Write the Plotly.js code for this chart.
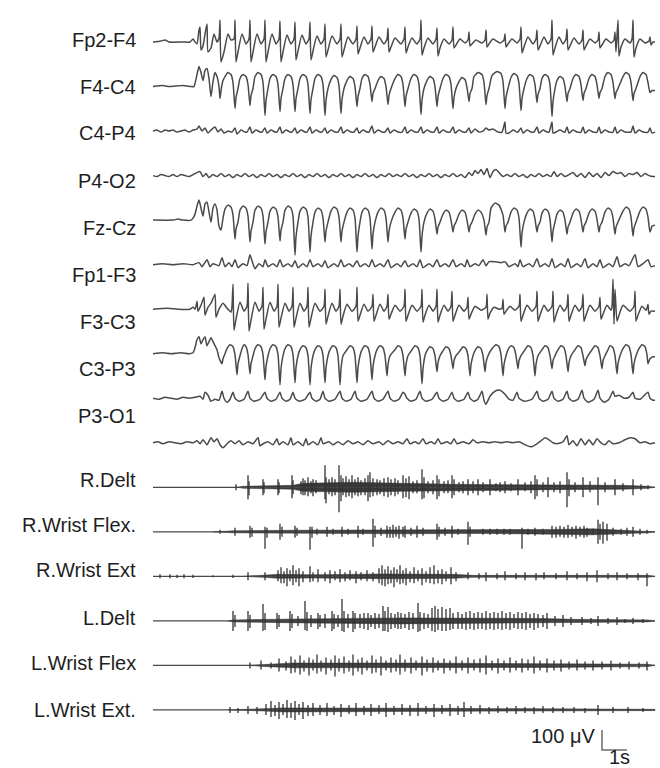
<!DOCTYPE html>
<html>
<head>
<meta charset="utf-8">
<script src="https://cdn.plot.ly/plotly-3.0.1.min.js"></script>
<style>html,body{margin:0;padding:0;background:#fff}</style>
</head>
<body>
<div id="chart" style="width:660px;height:768px"></div>
<script>
// Sampling step of the digitised record (one vertex index = 40 ms)
const SAMPLE_S = 0.04;

// Montage labels
const eegLabels = ["Fp2-F4", "F4-C4", "C4-P4", "P4-O2", "Fz-Cz", "Fp1-F3", "F3-C3", "C3-P3", "P3-O1"];
const emgLabels = ["R.Delt", "R.Wrist Flex.", "R.Wrist Ext", "L.Delt", "L.Wrist Flex", "L.Wrist Ext."];

// Calibration
const scaleUV = 100;
const scaleSec = 1;

// ---- EEG traces: [sample index, µV] ----
const fp2F4 = [[0,0],[8,5],[12,10],[16,0],[30,0],[37,0],[40,15],[42,0],
[44,-10],[46,60],[47,75],[48,-40],[50,-20],[52,40],[54,90],[55,-50],[58,-30],[61,40],[64,0],[66,20],[67,110],[68,-100],[71,-50],[75,40],[78,10],
[81,15],[82,110],[83,-100],[85,-50],[89,40],[93,-10],
[96,15],[97,110],[98,-100],[100,-50],[104,40],[108,-10],
[111,15],[112,110],[113,-100],[115,-50],[119,40],[123,-10],
[126,15],[127,105],[128,-100],[130,-50],[134,35],[138,-10],
[141,15],[142,100],[143,-90],[145,-45],[149,35],[153,-10],
[156,15],[157,100],[158,-90],[160,-45],[164,30],[168,-10],
[171,15],[172,90],[173,-75],[175,-40],[179,30],[184,-10],
[187,15],[188,90],[189,-75],[191,-40],[195,25],[200,-10],
[203,15],[204,80],[205,-60],[207,-30],[211,25],[215,-10],
[218,15],[219,80],[220,-50],[222,-25],[226,25],[231,-10],
[234,15],[235,70],[236,-50],[238,-25],[242,20],[248,-10],
[251,15],[252,75],[253,-55],[255,-25],[259,20],[264,-10],
[267,15],[268,110],[269,-65],[271,-30],[275,20],[280,-10],
[283,15],[284,70],[285,-70],[287,-30],[291,15],[296,-10],
[299,10],[300,75],[301,-30],[303,-15],[307,15],[312,-5],
[315,10],[316,50],[317,-20],[319,-10],[323,10],[329,-5],
[332,10],[333,60],[334,-25],[336,-10],[340,15],[347,-5],
[351,10],[352,40],[353,-25],[355,-10],[359,15],[364,-5],
[367,15],[368,75],[369,-55],[371,-25],[375,25],[380,-10],
[383,15],[384,60],[385,-40],[387,-20],[391,25],[395,-10],
[398,15],[399,110],[400,-65],[402,-30],[406,25],[410,-10],
[413,15],[414,65],[415,-40],[417,-20],[421,20],[426,-10],
[429,10],[430,60],[431,-40],[433,-20],[437,15],[442,-5],
[445,10],[446,50],[447,-30],[449,-15],[453,15],[458,-5],
[461,10],[462,50],[463,-50],[465,110],[466,-70],[468,-25],[472,15],[477,-5],
[479,15],[480,110],[481,-75],[483,-30],[487,15],[492,-5],
[496,5],[497,25],[498,-15],[500,0],[502,0]];

const f4C4 = [[0,0],[10,5],[15,0],[30,5],[38,0],[41,0],
[42,15],[44,60],[46,100],[48,70],[50,30],[52,80],[54,90],[56,40],[58,-50],[60,25],[62,70],[64,50],[66,0],[67,-60],[68,-20],[70,30],
[72,50],[75,70],[78,60],[80,20],[82,-110],[83,-55],[85,-10],
[87,40],[90,60],[93,50],[95,10],[97,-95],[98,-45],[100,-10],
[102,50],[105,70],[108,60],[110,20],[112,-145],[113,-70],[115,-10],
[117,40],[120,60],[123,50],[125,10],[127,-125],[128,-60],[130,-10],
[132,40],[135,60],[138,50],[140,10],[142,-125],[143,-60],[145,-10],
[147,40],[150,60],[153,50],[155,10],[157,-135],[158,-65],[160,-10],
[162,40],[165,60],[168,50],[170,10],[172,-145],[173,-70],[175,-10],
[178,35],[181,55],[184,45],[186,5],[188,-135],[189,-65],[191,-10],
[194,30],[197,50],[200,40],[202,0],[204,-100],[205,-50],[207,-10],
[209,40],[212,60],[215,50],[217,10],[219,-75],[220,-35],[222,-10],
[225,30],[228,50],[231,40],[233,0],[235,-90],[236,-45],[238,-10],
[242,40],[245,60],[248,50],[250,10],[252,-100],[253,-50],[255,-10],
[258,40],[261,60],[264,50],[266,10],[268,-140],[269,-70],[271,-10],
[274,30],[277,50],[280,40],[282,0],[284,-100],[285,-50],[287,-10],
[290,40],[293,60],[296,50],[298,10],[300,-110],[301,-55],[303,-10],
[306,25],[309,45],[312,35],[314,-5],[316,-75],[317,-35],[319,-10],
[321,50],[325,70],[329,60],[331,20],[333,-90],[334,-45],[336,-10],
[339,55],[344,75],[348,65],[350,25],[352,-110],[353,-55],[355,-10],
[358,45],[361,65],[364,55],[366,15],[368,-120],[369,-60],[371,-10],
[374,40],[377,60],[380,50],[382,10],[384,-80],[385,-40],[387,-10],
[389,40],[392,60],[395,50],[397,10],[399,-150],[400,-75],[402,-10],
[404,30],[407,50],[410,40],[412,0],[414,-75],[415,-35],[417,-10],
[420,40],[423,60],[426,50],[428,10],[430,-70],[431,-35],[433,-10],
[436,40],[439,60],[442,50],[444,10],[446,-60],[447,-30],[449,-10],
[452,50],[455,70],[458,60],[460,20],[462,-60],[463,-30],[465,-10],
[470,50],[473,70],[476,60],[478,20],[480,-70],[481,-35],[483,-10],
[487,50],[490,70],[493,60],[495,20],[497,-30],[499,-20],[502,-20]];

const c4P4 = [[0,0],[4,5],[8,-5],[12,5],[16,0],[20,5],[24,-5],[28,0],[32,5],[36,-5],[40,5],[44,10],[46,25],[49,0],[52,15],[55,-10],[58,5],[62,20],[65,-5],[68,10],[71,-10],[75,0],
[79,-5],[82,15],[84,-15],[88,5],[92,-5],
[94,-5],[97,20],[99,-10],[103,5],[107,-5],
[109,-5],[112,15],[114,-10],[118,5],[122,-5],
[124,-5],[127,20],[129,-10],[133,5],[137,-5],
[139,-5],[142,15],[144,-10],[148,5],[152,-5],
[154,-5],[157,20],[159,-10],[163,5],[167,-5],
[169,-5],[172,15],[174,-10],[178,5],[182,-5],
[185,-5],[188,20],[190,-10],[194,5],[198,-5],
[201,-5],[204,15],[206,-10],[210,5],[214,-5],
[216,-5],[219,25],[221,-10],[225,5],[229,-5],
[232,-5],[235,15],[237,-10],[241,5],[245,-5],
[249,-5],[252,20],[254,-10],[258,5],[262,-5],
[265,-5],[268,20],[270,-10],[274,5],[278,-5],
[281,-5],[284,20],[286,-10],[290,5],[294,-5],
[297,-5],[300,20],[302,-10],[306,5],[310,-5],
[313,-5],[316,15],[318,-10],[322,10],[326,-5],
[330,0],[333,15],[336,5],[340,10],[345,-5],
[349,-5],[352,45],[353,-10],[356,-10],[360,5],[364,-5],
[365,-5],[368,15],[370,-10],[374,5],[378,-5],
[381,-5],[384,20],[386,-10],[390,5],[394,-5],
[396,-5],[399,45],[400,-10],[403,-5],[407,5],[411,-5],
[412,-5],[414,20],[416,-10],[420,5],[424,-5],
[428,-5],[430,20],[432,-10],[436,5],[440,-5],
[444,-5],[446,20],[448,-10],[452,5],[456,-5],
[460,-5],[462,20],[464,-10],[468,5],[472,-5],
[478,-5],[480,25],[482,-10],[486,5],[490,-5],
[495,-5],[497,15],[499,-10],[502,-5]];

const p4O2 = [[0,0],[4,-5],[8,5],[12,0],[16,-5],[20,5],[24,-5],[28,5],[32,0],[36,-5],[40,5],[44,15],[47,20],[50,-5],[53,10],[56,-10],[60,5],[64,-5],[68,10],[72,-5],[76,5],[80,-10],[84,5],[88,-5],[92,10],[96,-5],[100,5],[104,-10],[108,5],[112,-5],[116,10],[120,-5],[124,5],[128,-10],[132,5],[136,-5],[140,10],[144,-5],[148,5],[152,-10],[156,5],[160,-5],[164,10],[168,-5],[172,5],[176,-10],[180,5],[184,-5],[188,10],[192,-5],[196,5],[200,-10],[204,5],[208,-5],[212,10],[216,-5],[220,5],[224,-10],[228,5],[232,-5],[236,10],[240,-5],[244,5],[248,-5],[252,10],[256,-5],[260,5],[264,-10],[268,5],[272,-5],[276,10],[280,-5],[284,5],[288,-10],[292,5],[296,-5],[300,10],[304,-5],[308,5],[312,-10],[316,15],[319,0],[322,25],[325,10],[328,30],[331,5],[334,35],[337,-10],[340,20],[343,30],[346,15],[350,-5],[354,5],[358,-5],[362,10],[366,-5],[370,5],[374,-10],[378,5],[382,-5],[386,10],[390,-5],[394,5],[398,-5],[401,20],[404,-5],[408,10],[412,-5],[416,5],[420,15],[424,-5],[428,10],[432,-10],[436,15],[440,-5],[444,10],[448,-10],[452,15],[456,0],[460,20],[464,10],[468,15],[472,-5],[476,10],[480,5],[484,15],[488,-5],[492,10],[496,0],[500,-5],[502,-5]];

const fzCz = [[0,0],[20,0],[25,5],[30,0],[38,0],[40,10],
[42,30],[44,70],[46,100],[48,60],[50,20],[52,80],[54,90],[56,40],[58,-10],[60,60],[62,80],[64,50],[66,-30],[68,-50],[70,10],
[72,55],[75,75],[78,65],[80,25],[82,-95],[83,-45],[85,-10],
[87,50],[90,70],[93,60],[95,20],[97,-110],[98,-55],[100,-10],
[102,50],[105,70],[108,60],[110,20],[112,-120],[113,-60],[115,-10],
[117,45],[120,65],[123,55],[125,15],[127,-105],[128,-50],[130,-10],
[132,50],[135,70],[138,60],[140,20],[142,-175],[143,-85],[145,-10],
[147,45],[150,65],[153,55],[155,15],[157,-160],[158,-80],[160,-10],
[162,40],[165,60],[168,50],[170,10],[172,-110],[173,-55],[175,-10],
[178,45],[181,65],[184,55],[186,15],[188,-110],[189,-55],[191,-10],
[194,40],[197,60],[200,50],[202,10],[204,-160],[205,-80],[207,-10],
[209,40],[212,60],[215,50],[217,10],[219,-145],[220,-70],[222,-10],
[225,40],[228,60],[231,50],[233,10],[235,-110],[236,-55],[238,-10],
[242,40],[245,60],[248,50],[250,10],[252,-95],[253,-45],[255,-10],
[258,35],[261,55],[264,45],[266,5],[268,-160],[269,-80],[271,-10],
[274,35],[277,55],[280,45],[282,5],[284,-70],[285,-35],[287,-10],
[290,30],[293,50],[296,40],[298,0],[300,-60],[301,-30],[303,-10],
[306,30],[309,50],[312,40],[314,0],[316,-60],[317,-30],[319,-10],
[322,30],[325,50],[328,40],[331,0],[333,-75],[334,-35],[336,-10],
[338,60],[342,85],[346,75],[350,25],[352,-60],[353,-30],[355,-10],
[358,40],[361,60],[364,50],[366,10],[368,-135],[369,-65],[371,-10],
[374,35],[377,55],[380,45],[382,5],[384,-60],[385,-30],[387,-10],
[389,35],[392,55],[395,45],[397,5],[399,-110],[400,-55],[402,-10],
[404,30],[407,50],[410,40],[412,0],[414,-70],[415,-35],[417,-10],
[420,35],[423,55],[426,45],[428,5],[430,-60],[431,-30],[433,-10],
[436,35],[439,55],[442,45],[444,5],[446,-60],[447,-30],[449,-10],
[452,40],[455,60],[458,50],[460,10],[462,-70],[463,-35],[465,-10],
[470,45],[473,65],[476,55],[478,15],[480,-80],[481,-40],[483,-10],
[487,45],[490,65],[493,55],[495,15],[497,-60],[499,-30],[502,-25]];

const fp1F3 = [[0,0],[10,5],[20,0],[30,5],[40,0],[46,10],[49,-10],[54,25],[57,-10],[60,5],[66,-5],[69,35],[72,-10],[76,10],[79,-10],[82,25],[85,-15],[90,5],[94,-5],[97,50],[99,20],[102,-20],[106,5],[110,-10],[112,25],[115,-10],[120,5],[124,-10],[127,25],[130,-10],[135,5],[139,-10],[142,20],[145,-15],[150,5],[154,-10],[157,25],[160,-10],[165,5],[169,-10],[172,20],[175,-15],[181,5],[185,-10],[188,25],[191,-10],[196,5],[200,-10],[204,20],[207,-10],[212,5],[216,-10],[219,25],[222,-10],[227,5],[231,-10],[235,25],[238,-15],[244,5],[248,-10],[252,20],[255,-10],[260,5],[264,-10],[267,25],[270,-15],[276,5],[280,-10],[284,25],[287,-10],[292,5],[296,-10],[300,25],[303,-10],[308,5],[312,-10],[314,25],[317,-10],[322,5],[326,-5],[330,25],[333,-5],[336,15],[342,15],[348,10],[352,15],[356,-10],[362,5],[365,-10],[367,25],[370,-10],[376,5],[380,-10],[384,30],[387,-10],[392,5],[396,-10],[399,30],[402,-15],[408,5],[412,-10],[415,30],[418,-15],[424,5],[428,-10],[432,30],[435,-15],[440,5],[444,-10],[447,25],[450,-15],[456,5],[460,-10],[464,40],[467,-10],[472,5],[476,-5],[482,50],[485,-10],[490,5],[495,25],[498,-10],[502,-5]];

const f3C3 = [[0,0],[15,5],[25,0],[37,0],[40,10],[42,0],
[43,15],[44,40],[45,-10],[48,20],[51,60],[52,-30],[55,10],[58,30],[62,75],[63,-40],[66,0],[70,30],[74,5],[78,-15],
[79,15],[80,125],[81,-105],[83,-50],[87,35],[91,-10],
[94,15],[95,130],[96,-110],[98,-55],[102,35],[106,-10],
[109,15],[110,110],[111,-100],[113,-50],[117,35],[121,-10],
[124,15],[125,125],[126,-90],[128,-45],[132,30],[136,-10],
[139,15],[140,110],[141,-90],[143,-45],[147,30],[151,-10],
[154,15],[155,110],[156,-90],[158,-45],[162,30],[167,-10],
[171,15],[172,100],[173,-75],[175,-35],[179,30],[183,-10],
[186,15],[187,100],[188,-75],[190,-35],[194,25],[199,-10],
[203,15],[204,110],[205,-60],[207,-30],[211,25],[215,-10],
[219,15],[220,75],[221,-60],[223,-30],[227,25],[231,-10],
[234,15],[235,75],[236,-50],[238,-25],[242,20],[247,-10],
[251,15],[252,100],[253,-60],[255,-30],[259,20],[264,-10],
[268,15],[269,100],[270,-65],[272,-30],[276,20],[280,-10],
[283,15],[284,100],[285,-65],[287,-30],[291,20],[295,-10],
[298,15],[299,90],[300,-60],[302,-30],[306,20],[311,-10],
[314,10],[315,60],[316,-50],[318,-25],[322,15],[328,-5],
[333,10],[334,75],[335,-50],[337,-20],[341,10],[346,0],
[349,5],[350,50],[351,-25],[353,-10],[357,15],[362,-5],
[366,15],[367,75],[368,-60],[370,-30],[374,20],[379,-10],
[383,15],[384,90],[385,-60],[387,-30],[391,20],[395,-10],
[399,15],[400,90],[401,-65],[403,-30],[407,20],[411,-10],
[414,15],[415,75],[416,-60],[418,-30],[422,20],[426,-10],
[429,15],[430,75],[431,-60],[433,-30],[437,20],[442,-10],
[446,15],[447,60],[448,-50],[450,-25],[454,20],[458,-5],
[459,15],[460,150],[461,-75],[462,100],[464,-60],[466,-30],[470,20],[477,-10],
[481,15],[482,90],[483,-60],[485,-30],[489,15],[493,-5],
[494,5],[495,25],[496,-25],[498,-10],[502,-10]];

const c3P3 = [[0,0],[10,5],[18,0],[28,5],[36,0],[40,5],
[42,30],[44,70],[46,85],[48,50],[50,70],[52,85],[54,40],[56,60],[58,80],[61,50],[64,20],[66,-20],[69,-50],[70,-25],[72,0],
[74,25],[77,45],[80,35],[82,-5],[84,-105],[85,-50],[87,-10],
[89,25],[91,45],[93,35],[95,-5],[97,-100],[98,-50],[100,-10],
[102,25],[105,45],[108,35],[110,-5],[112,-130],[113,-65],[115,-10],
[117,25],[120,45],[123,35],[125,-5],[127,-155],[128,-75],[130,-10],
[132,25],[135,45],[138,35],[140,-5],[142,-145],[143,-70],[145,-10],
[147,20],[150,40],[153,30],[155,-10],[157,-155],[158,-75],[160,-10],
[162,20],[165,40],[168,30],[170,-10],[172,-145],[173,-70],[175,-10],
[177,20],[180,40],[183,30],[185,-10],[187,-155],[188,-75],[190,-10],
[194,20],[197,40],[200,30],[202,-10],[204,-145],[205,-70],[207,-10],
[209,20],[212,40],[215,30],[217,-10],[219,-130],[220,-65],[222,-10],
[224,20],[227,40],[230,30],[232,-10],[234,-110],[235,-55],[237,-10],
[242,20],[245,40],[248,30],[250,-10],[252,-110],[253,-55],[255,-10],
[259,20],[262,40],[265,30],[267,-10],[269,-150],[270,-75],[272,-10],
[274,15],[277,35],[280,25],[282,-10],[284,-90],[285,-45],[287,-10],
[290,15],[293,35],[296,25],[298,-10],[300,-75],[301,-35],[303,-10],
[307,15],[310,35],[313,25],[315,-10],[317,-110],[318,-55],[320,-10],
[322,15],[325,35],[328,25],[330,-10],[332,-90],[333,-45],[335,-10],
[339,25],[343,45],[346,35],[348,-5],[350,-110],[351,-55],[353,-10],
[355,20],[358,40],[361,30],[363,-10],[365,-75],[366,-35],[368,-10],
[372,20],[375,40],[378,30],[380,-10],[382,-110],[383,-55],[385,-10],
[389,20],[392,40],[395,30],[397,-10],[399,-75],[400,-35],[402,-10],
[405,20],[408,40],[411,30],[413,-10],[415,-90],[416,-45],[418,-10],
[422,20],[425,40],[428,30],[430,-10],[432,-60],[433,-30],[435,-10],
[439,20],[442,40],[445,30],[447,-10],[449,-75],[450,-35],[452,-10],
[455,20],[457,40],[460,30],[462,-10],[464,-100],[465,-50],[467,-10],
[470,25],[473,45],[476,35],[478,-5],[480,-100],[481,-50],[483,-10],
[486,25],[489,45],[492,35],[494,-5],[495,-50],[497,-25],[500,-15],[502,-15]];

const p3O1 = [[0,0],[6,-5],[12,5],[18,0],[24,-5],[30,5],[36,0],[42,5],[47,10],[50,-5],[52,30],[55,15],[58,-15],[62,-5],[66,-10],
[69,35],[71,0],[74,-20],[77,-5],
[80,30],[82,0],[86,-15],[91,-5],
[95,35],[97,0],[101,-15],[107,-5],
[112,30],[114,0],[118,-15],[123,-5],
[127,30],[129,0],[133,-15],[137,-5],
[140,30],[142,0],[146,-15],[152,-5],
[157,30],[159,0],[163,-15],[167,-5],
[170,35],[172,0],[176,-15],[182,-5],
[187,35],[189,0],[193,-15],[198,-5],
[202,35],[204,0],[208,-15],[214,-5],
[219,35],[221,0],[225,-15],[230,-5],
[235,35],[237,0],[241,-15],[246,-5],
[250,30],[252,20],[254,0],[258,-15],[263,-5],
[267,35],[269,0],[273,-15],[279,-5],
[284,30],[286,0],[290,-15],[295,-5],
[299,30],[301,0],[305,-15],[311,-5],
[315,30],[317,0],[321,-15],[325,-5],
[329,35],[331,-10],[333,-30],[337,10],[342,35],[347,40],[352,20],[356,-5],[360,-10],
[364,30],[366,0],[371,-15],[379,-5],
[384,35],[386,0],[390,-15],[395,-5],
[399,35],[401,0],[405,-15],[410,-5],
[414,35],[416,0],[420,-15],[425,-5],
[429,40],[431,0],[435,-20],[441,-5],
[445,40],[447,0],[451,-20],[456,-5],
[460,35],[462,10],[466,15],[471,0],[476,5],
[480,30],[482,0],[487,-5],
[495,30],[497,0],[500,-10],[502,-10]];

const o1Lower = [[0,0],[5,5],[10,-5],[16,5],[22,0],[28,-5],[34,5],[40,0],[44,10],[47,-5],[50,15],[54,-10],[58,25],[61,5],[64,20],[67,-10],[70,-25],[74,-5],[78,10],[82,-5],[86,10],[90,-10],[95,5],[100,-5],[105,25],[107,-15],[110,-5],[115,5],[120,-10],[124,20],[126,-10],[130,5],[135,-10],[138,25],[140,-10],[145,5],[150,-15],[153,20],[155,-10],[160,5],[165,-10],[168,25],[170,-5],[176,5],[180,-10],[185,5],[190,-10],[195,10],[200,-5],[205,5],[210,-10],[215,10],[220,-5],[226,5],[230,-10],[235,10],[240,-5],[245,5],[250,-5],[254,20],[257,-5],[262,5],[266,-5],[270,20],[273,-5],[278,5],[282,-5],[285,20],[288,-5],[294,5],[298,-5],[301,20],[304,-5],[310,5],[316,-5],[320,15],[324,0],[330,5],[336,0],[342,5],[348,0],[354,5],[360,0],[366,5],[372,-10],[378,-20],[384,-5],[388,10],[392,25],[396,15],[400,0],[404,-5],[410,5],[414,35],[416,-10],[420,10],[424,-15],[428,20],[432,-10],[436,15],[440,-10],[444,20],[448,0],[452,-10],[456,10],[460,-5],[466,0],[472,15],[477,25],[482,20],[487,0],[492,5],[497,-5],[502,0]];

// ---- EMG: bursts [sample index, up µV, down µV] and tonic envelope [sample index, µV] ----
const rDelt = [[83,15,15],[95,60,60],[96,30,40],[110,40,40],[111,25,30],[125,40,40],[126,25,30],[139,60,55],[140,35,35],[148,30,35],[150,45,40],[152,35,40],[155,50,45],[158,30,30],[160,40,45],[163,35,30],
[172,110,60],[173,50,80],[176,40,35],[179,50,45],[182,40,40],[186,110,125],[188,60,70],[190,45,40],[193,55,50],[196,40,45],[199,60,55],[202,40,40],[205,50,45],[208,35,40],
[212,45,40],[215,60,70],[217,75,50],[220,45,45],[224,40,40],[227,35,35],[231,45,45],[235,50,50],[238,40,40],[242,45,45],[245,35,35],
[250,60,55],[253,45,50],[256,55,60],[260,30,30],[264,35,30],[269,90,60],[271,50,55],[275,30,30],[280,35,35],[284,60,60],[286,40,45],[291,30,30],[295,35,30],[299,60,55],[301,40,40],[306,25,25],[310,30,30],[315,40,40],[320,30,30],[325,40,40],[330,25,25],[337,40,40],[343,20,20],[347,25,25],[352,30,30],[358,20,20],[365,40,40],[372,25,20],[378,30,30],[382,60,60],[384,40,45],[390,25,25],[395,50,50],[401,25,25],[407,30,30],[414,75,100],[416,40,45],[422,25,25],[430,50,50],[437,30,25],[445,50,90],[452,25,25],[462,40,40],[470,20,20],[480,40,40],[488,15,15],[495,10,10]];
const rDeltEnv = [[84,0],[90,5],[140,10],[150,20],[200,25],[250,20],[300,15],[400,12],[470,10],[495,5],[502,0]];

const rWristFlex = [[67,10,10],[82,20,20],[97,30,30],[99,20,25],[112,25,85],[114,20,30],[127,40,40],[129,25,25],[142,30,30],[144,20,20],[157,25,90],[159,25,30],[164,15,15],[174,25,25],[180,15,15],[189,25,25],[195,15,15],[205,30,30],[210,15,15],[220,65,75],[222,30,30],[228,20,20],[234,30,30],[237,25,30],[240,35,30],[243,25,25],[246,30,35],[250,25,25],[252,30,30],[258,20,20],[264,30,30],[270,20,20],[284,40,40],[286,25,25],[292,20,20],[299,30,30],[305,15,15],[315,50,65],[317,25,25],[330,15,15],[337,15,15],[344,15,15],[351,15,15],[357,15,15],[369,20,85],[375,15,15],[382,20,20],[390,15,15],[399,30,30],[403,25,30],[407,30,25],[411,25,30],[415,35,30],[419,25,25],[423,30,35],[427,25,25],[431,30,30],[434,20,25],[440,15,15],[445,60,60],[447,40,40],[450,50,60],[454,40,45],[460,20,20],[468,15,15],[474,20,20],[480,25,25],[487,15,15],[494,10,10]];
const rWristFlexEnv = [[60,0],[80,5],[140,8],[250,10],[330,8],[400,12],[440,15],[460,10],[495,5],[502,0]];

const rWristExt = [[7,10,10],[17,10,10],[24,8,8],[31,10,10],[40,8,8],[60,5,5],[80,8,8],[95,20,20],[112,20,20],[125,30,25],[128,45,35],[131,25,35],[134,40,50],[137,30,25],[140,55,45],[143,30,30],[146,40,50],[150,25,30],[157,50,30],[160,20,25],[165,35,30],[172,20,25],[177,30,35],[182,25,20],[187,35,30],[192,20,25],[197,30,20],[203,25,35],[208,20,20],[214,30,25],[220,20,25],[226,40,35],[229,55,45],[232,35,50],[235,50,40],[238,30,35],[241,45,55],[244,35,30],[247,55,40],[250,30,35],[253,40,45],[257,25,30],[261,45,35],[265,30,25],[269,40,45],[273,25,30],[277,45,35],[281,55,40],[285,30,35],[289,35,40],[293,25,25],[298,45,40],[303,20,25],[315,20,15],[326,15,15],[333,20,25],[344,15,15],[352,25,20],[363,15,15],[372,20,20],[383,15,20],[391,20,15],[403,15,15],[414,25,20],[424,15,15],[434,20,25],[444,30,30],[455,15,15],[464,20,20],[474,15,15],[485,15,20],[494,15,50]];
const rWristExtEnv = [[90,0],[110,5],[125,10],[160,8],[230,12],[300,10],[320,5],[495,5],[502,0]];

const lDelt = [[80,50,50],[82,30,30],[95,50,50],[97,30,35],[110,85,50],[112,40,45],[124,40,40],[126,30,30],[137,50,50],[139,35,35],[145,25,25],[152,100,45],[154,45,50],[158,30,30],[165,40,40],[167,30,30],[172,35,35],[179,50,50],[181,35,40],[185,30,30],[189,110,50],[191,50,55],[195,35,35],[200,50,55],[202,40,40],[207,35,35],[211,40,40],[215,40,45],[218,30,30],[222,40,40],[226,35,35],[230,75,50],[232,50,50],[235,70,55],[238,40,40],[242,35,35],[245,45,40],[248,40,40],[252,35,35],[256,45,45],[260,40,40],[265,90,55],[267,45,50],[271,40,40],[275,35,35],[279,65,50],[282,75,55],[285,60,45],[289,70,50],[293,60,50],[297,65,45],[300,40,40],[305,45,40],[309,35,40],[313,45,45],[317,50,40],[321,40,45],[325,45,40],[329,40,40],[333,50,45],[337,40,40],[341,45,45],[345,40,40],[349,50,45],[353,40,40],[357,45,45],[361,35,35],[365,45,40],[369,40,40],[373,45,45],[377,35,35],[381,40,45],[385,35,35],[390,30,30],[394,40,40],[402,25,25],[410,30,30],[418,20,20],[429,20,20],[438,15,15],[445,25,25],[455,15,15],[464,20,20],[472,10,10],[480,15,15],[490,10,10]];
const lDeltEnv = [[75,0],[80,5],[150,10],[250,15],[390,12],[420,8],[495,5],[502,0]];

const lWristFlex = [[97,15,15],[108,25,20],[118,15,15],[126,35,30],[133,20,25],[138,45,40],[142,30,35],[147,50,45],[151,25,30],[156,40,50],[160,30,25],[164,55,40],[168,25,30],[173,40,45],[178,30,25],[182,50,55],[186,35,30],[191,45,40],[196,25,30],[200,55,50],[205,30,30],[209,40,45],[214,25,25],[219,50,40],[223,30,35],[228,45,50],[233,25,25],[238,40,35],[243,30,30],[247,55,45],[252,30,30],[258,40,40],[263,25,25],[269,45,50],[274,30,30],[280,40,35],[285,25,25],[291,35,40],[297,25,25],[303,45,40],[309,25,25],[315,40,40],[321,30,25],[327,35,35],[333,50,45],[339,25,25],[345,35,40],[351,25,25],[357,40,35],[363,25,25],[369,35,35],[375,30,25],[381,45,40],[387,25,25],[394,35,35],[401,25,25],[408,30,30],[416,20,20],[424,30,25],[432,20,20],[440,25,25],[449,20,20],[458,25,25],[467,15,15],[476,20,20],[486,15,15],[494,20,25]];
const lWristFlexEnv = [[95,0],[110,5],[140,12],[250,12],[400,10],[495,6],[502,0]];

const lWristExt = [[77,15,15],[85,10,15],[95,20,20],[104,15,20],[113,30,25],[118,45,35],[122,25,30],[126,40,45],[130,30,25],[134,50,40],[138,35,40],[142,45,50],[146,30,25],[150,40,45],[155,25,30],[160,35,30],[167,25,25],[174,35,30],[181,20,25],[188,30,35],[196,25,20],[203,35,30],[211,20,25],[218,30,30],[226,25,20],[233,35,35],[241,20,25],[249,30,25],[257,25,30],[265,35,30],[273,20,20],[281,30,35],[289,25,20],[297,30,30],[305,20,25],[311,40,35],[318,20,20],[327,25,20],[336,15,20],[345,20,15],[354,15,15],[363,20,20],[372,15,15],[381,15,20],[390,20,15],[400,15,15],[410,15,15],[421,15,15],[432,10,15],[445,25,25],[460,15,15],[475,15,15],[490,10,10]];
const lWristExtEnv = [[75,0],[110,5],[130,10],[300,8],[400,5],[502,3]];

const RECORD_END = 502; // last sample index of the page

// ---- drawing ----
const INK = '#4a4a4a';
const FONT = 'Liberation Sans, Arial, Helvetica, sans-serif';
const PX_UV = 5;                 // vertical scale: 5 µV per pixel
const ROW_TOP = 42 * PX_UV;      // first trace baseline
const ROW_STEP = 44.53 * PX_UV;  // spacing between traces
const rowBase = i => -(ROW_TOP + i * ROW_STEP);

const eegTraces = [fp2F4, f4C4, c4P4, p4O2, fzCz, fp1F3, f3C3, c3P3, p3O1, o1Lower];
const emgTraces = [[rDelt, rDeltEnv], [rWristFlex, rWristFlexEnv], [rWristExt, rWristExtEnv],
                   [lDelt, lDeltEnv], [lWristFlex, lWristFlexEnv], [lWristExt, lWristExtEnv]];

const data = [];
eegTraces.forEach((d, i) => {
  const b = rowBase(i);
  data.push({
    type: 'scatter', mode: 'lines',
    x: d.map(p => p[0] * SAMPLE_S), y: d.map(p => b + p[1]),
    line: {color: INK, width: 1.5, shape: 'spline', smoothing: 0.55}, hoverinfo: 'skip'
  });
});

emgTraces.forEach(([bursts, env], k) => {
  const b = rowBase(eegTraces.length + k);
  // tonic activity band
  const ex = env.map(p => p[0] * SAMPLE_S);
  data.push({
    type: 'scatter', mode: 'lines', fill: 'toself',
    x: ex.concat(ex.slice().reverse()),
    y: env.map(p => b + p[1]).concat(env.slice().reverse().map(p => b - p[1])),
    line: {color: '#3a3a3a', width: 0.5}, fillcolor: '#3a3a3a', hoverinfo: 'skip'
  });
  // baseline
  data.push({
    type: 'scatter', mode: 'lines',
    x: [0, RECORD_END * SAMPLE_S], y: [b, b],
    line: {color: INK, width: 1.3}, hoverinfo: 'skip'
  });
  // bursts
  const bx = [], by = [];
  bursts.forEach(([t, up, dn]) => { bx.push(t * SAMPLE_S, t * SAMPLE_S, null); by.push(b + up, b - dn, null); });
  data.push({
    type: 'scatter', mode: 'lines', x: bx, y: by,
    line: {color: '#333333', width: 1.3}, hoverinfo: 'skip', connectgaps: false
  });
});

// calibration bar (100 µV / 1 s)
const barT = 449 * SAMPLE_S, barY = -750 * PX_UV;
data.push({
  type: 'scatter', mode: 'lines',
  x: [barT, barT, barT + scaleSec], y: [barY + scaleUV, barY, barY],
  line: {color: '#6b6b6b', width: 1.5}, hoverinfo: 'skip'
});

// label rows (pixel rows of the text centres)
const eegLabelRows = [40, 87, 133, 181, 228, 275, 322, 369, 416];
const emgLabelRows = [480, 525, 570, 618, 663, 710];
const labelX = -15 * SAMPLE_S;
const annotations = [];
eegLabels.forEach((s, i) => annotations.push({
  text: s, x: labelX, y: -eegLabelRows[i] * PX_UV, xref: 'x', yref: 'y',
  xanchor: 'right', yanchor: 'middle', showarrow: false
}));
emgLabels.forEach((s, i) => annotations.push({
  text: s, x: labelX, y: -emgLabelRows[i] * PX_UV, xref: 'x', yref: 'y',
  xanchor: 'right', yanchor: 'middle', showarrow: false
}));
annotations.push({text: scaleUV + ' μV', x: barT - 0.2, y: -736 * PX_UV, xref: 'x', yref: 'y',
  xanchor: 'right', yanchor: 'middle', showarrow: false});
annotations.push({text: scaleSec + 's', x: barT + 0.7 * scaleSec, y: -757 * PX_UV, xref: 'x', yref: 'y',
  xanchor: 'center', yanchor: 'middle', showarrow: false});

const layout = {
  width: 660, height: 768,
  margin: {l: 0, r: 0, t: 0, b: 0},
  paper_bgcolor: '#ffffff', plot_bgcolor: '#ffffff',
  showlegend: false,
  font: {family: FONT, size: 20, color: '#1e1e1e'},
  xaxis: {range: [-153 * SAMPLE_S, 507 * SAMPLE_S], visible: false, fixedrange: true},
  yaxis: {range: [-768 * PX_UV, 0], visible: false, fixedrange: true},
  annotations: annotations
};

Plotly.newPlot('chart', data, layout, {displayModeBar: false, staticPlot: true});
</script>
</body>
</html>
